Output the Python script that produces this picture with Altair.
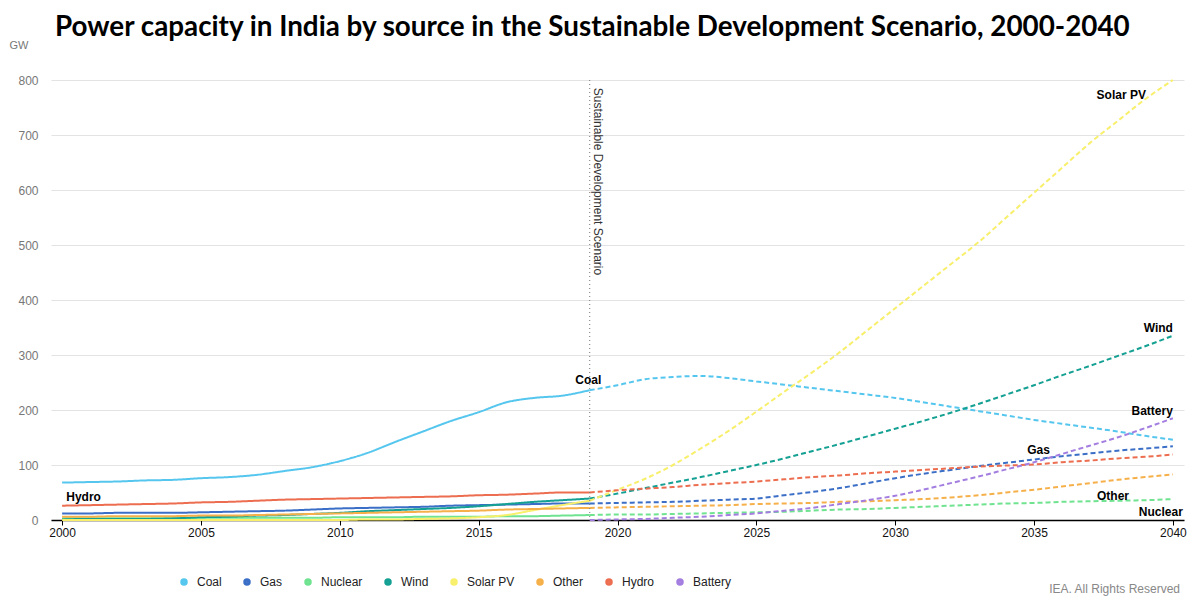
import altair as alt
import pandas as pd

sources = ["Coal", "Gas", "Nuclear", "Wind", "Solar PV", "Other", "Hydro", "Battery"]
colors = ["#55c6ee", "#3b6ec6", "#6fe390", "#14a093", "#f8ef6a", "#f6b04a", "#ec6d4f", "#a37ee0"]

hist_years = list(range(2000, 2020))
proj_years = list(range(2019, 2041))

hist = {
    "Coal":    [68, 69, 70, 72, 73, 76, 78, 82, 89, 96, 107, 122, 142, 161, 180, 196, 214, 222, 226, 236],
    "Gas":     [12, 12, 13, 13, 13, 14, 15, 16, 17, 19, 21, 22, 23, 24, 26, 27, 28, 29, 30, 30],
    "Nuclear": [3, 3, 3, 3, 3, 4, 4, 4, 4, 4, 5, 5, 5, 6, 6, 6, 7, 7, 8, 9],
    "Wind":    [1, 2, 2, 2, 3, 5, 6, 8, 9, 11, 13, 16, 18, 20, 22, 25, 29, 33, 36, 39],
    "Solar PV":[0, 0, 0, 0, 0, 0, 0, 0, 0, 0, 0, 1, 1, 2, 3, 5, 9, 18, 27, 35],
    "Other":   [6, 6, 7, 7, 7, 8, 8, 9, 10, 11, 12, 13, 14, 15, 16, 17, 19, 20, 21, 22],
    "Hydro":   [26, 27, 28, 29, 30, 32, 33, 35, 37, 38, 39, 40, 41, 42, 43, 45, 46, 48, 50, 50],
}

proj = {
    "Coal":    [236, 245, 256, 260, 262, 258, 252, 246, 240, 234, 228, 222, 214, 206, 198, 190, 182, 175, 168, 161, 153, 146],
    "Gas":     [30, 31, 32, 33, 35, 37, 39, 45, 51, 58, 67, 76, 84, 91, 98, 104, 110, 116, 121, 126, 130, 134],
    "Nuclear": [9, 10, 10, 11, 12, 13, 14, 15, 17, 19, 20, 22, 24, 26, 28, 30, 31, 33, 34, 35, 36, 38],
    "Wind":    [39, 48, 58, 68, 78, 89, 100, 112, 125, 138, 152, 166, 180, 195, 211, 228, 245, 263, 280, 298, 316, 335],
    "Solar PV":[35, 55, 75, 100, 130, 162, 197, 233, 268, 305, 345, 385, 425, 465, 505, 550, 595, 640, 685, 725, 765, 800],
    "Other":   [22, 23, 24, 25, 26, 27, 29, 30, 31, 33, 34, 36, 38, 41, 45, 50, 55, 61, 67, 73, 78, 83],
    "Hydro":   [50, 54, 57, 60, 64, 67, 70, 74, 78, 81, 85, 88, 91, 94, 97, 99, 101, 105, 108, 112, 115, 119],
    "Battery": [0, 1, 2, 4, 6, 9, 12, 17, 22, 29, 36, 44, 55, 67, 79, 92, 105, 120, 135, 150, 167, 185],
}

x_ticks = [2000, 2005, 2010, 2015, 2020, 2025, 2030, 2035, 2040]
y_ticks = [0, 100, 200, 300, 400, 500, 600, 700, 800]

label_text = ["Coal", "Hydro", "Solar PV", "Wind", "Battery", "Gas", "Other", "Nuclear"]
label_year = [2018.95, 2000.15, 2039.03, 2040.0, 2040.0, 2035.16, 2038.42, 2040.36]
label_gw = [255, 42, 773, 349, 198, 127, 44, 15]
label_align = ["center", "left", "right", "right", "right", "center", "right", "right"]

scenario_year = 2019
scenario_text = "Sustainable Development Scenario"

rows = []
for s in sources:
    if s in hist:
        for y, v in zip(hist_years, hist[s]):
            rows.append({"year": y, "value": v, "source": s, "period": "hist"})
    for y, v in zip(proj_years, proj[s]):
        rows.append({"year": y, "value": v, "source": s, "period": "proj"})
df = pd.DataFrame(rows)

labels_df = pd.DataFrame({"text": label_text, "year": label_year, "value": label_gw, "align": label_align})

FONT = "Liberation Sans"

xscale = alt.Scale(domain=[1999.6, 2040.4], nice=False, zero=False)
yscale = alt.Scale(domain=[0, 800], nice=False)

lines = alt.Chart(df).mark_line(strokeWidth=2, interpolate="monotone").encode(
    x=alt.X("year:Q", scale=xscale,
            axis=alt.Axis(values=x_ticks, format="d", title=None, grid=False, domainColor="#000",
                          tickColor="#000", tickSize=5, labelColor="#111", labelFontSize=12,
                          labelFont=FONT, labelPadding=2, domainWidth=1.5)),
    y=alt.Y("value:Q", scale=yscale,
            axis=alt.Axis(values=y_ticks, title="GW", titleAngle=0, titleX=-42, titleY=-35,
                          titleAlign="left", titleBaseline="middle", titleFontWeight="normal",
                          titleColor="#777", titleFontSize=11, titleFont=FONT,
                          domain=False, ticks=False, labelPadding=13, labelColor="#777",
                          labelFontSize=12, labelFont=FONT, gridColor="#e3e3e3")),
    color=alt.Color("source:N", scale=alt.Scale(domain=sources, range=colors),
                    legend=alt.Legend(title=None, orient="none", direction="horizontal",
                                      legendX=127, legendY=496, symbolType="circle",
                                      symbolSize=16, symbolStrokeWidth=3.5,
                                      labelFontSize=12, labelFont=FONT, labelColor="#222",
                                      labelOffset=7, columnPadding=16)),
    strokeDash=alt.StrokeDash("period:N", scale=alt.Scale(domain=["hist", "proj"], range=[[1, 0], [5, 3]]),
                              legend=None),
    order=alt.Order("year:Q"),
)

rule = alt.Chart().mark_rule(strokeDash=[1, 3], color="#777", strokeWidth=1).encode(
    x=alt.datum(scenario_year)
)

scen_text = alt.Chart().mark_text(angle=90, align="left", baseline="bottom", fontSize=12,
                                  font=FONT, color="#333", dy=-1).encode(
    x=alt.datum(scenario_year), y=alt.datum(786), text=alt.value(scenario_text)
)

def lab(align):
    return alt.Chart(labels_df[labels_df["align"] == align]).mark_text(
        align=align, baseline="middle", fontSize=12, fontWeight="bold", font=FONT, color="#000"
    ).encode(x=alt.X("year:Q", scale=xscale), y=alt.Y("value:Q", scale=yscale), text="text:N")

footer = alt.Chart().mark_text(align="right", baseline="middle", fontSize=12, font=FONT,
                               color="#888").encode(
    x=alt.value(1129), y=alt.value(509), text=alt.value("IEA. All Rights Reserved")
)

chart = alt.layer(lines, rule, scen_text, lab("center"), lab("left"), lab("right"), footer).properties(
    width=1133, height=440,
    title=alt.TitleParams("Power capacity in India by source in the Sustainable Development Scenario, 2000-2040",
                          anchor="start", frame="group", dx=4, offset=-3, font="Lato",
                          fontSize=27.8, fontWeight="bold", color="#000"),
    autosize=alt.AutoSizeParams(type="none"),
    padding={"left": 43, "top": 72, "right": 5, "bottom": 85},
).configure_view(stroke=None)

chart.save("out.html", embed_options={"renderer": "svg", "actions": False})
